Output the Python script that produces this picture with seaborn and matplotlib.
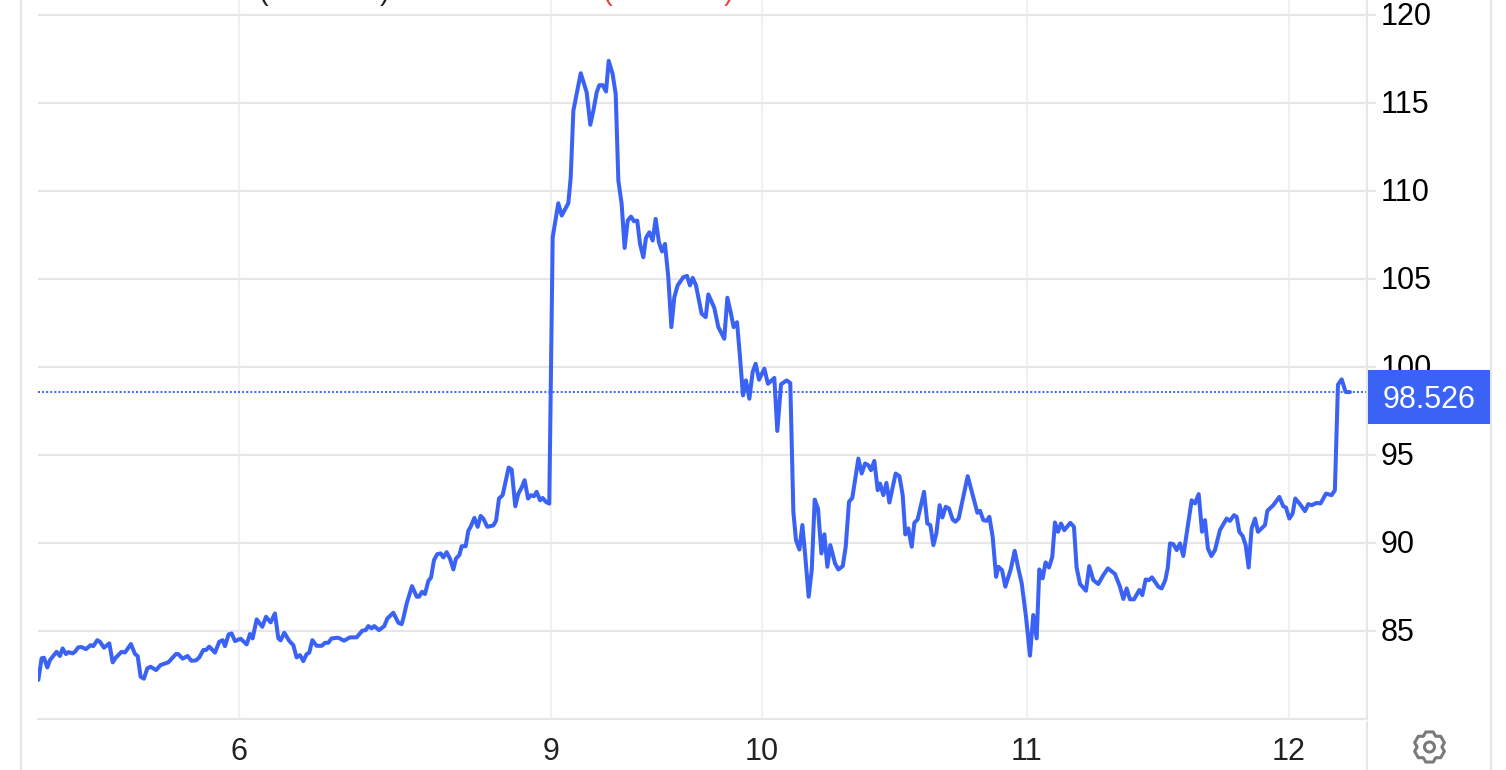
import matplotlib
matplotlib.use("Agg")
import matplotlib.pyplot as plt
from matplotlib.lines import Line2D
from matplotlib.patches import Circle, Polygon, Rectangle
from matplotlib.transforms import IdentityTransform, ScaledTranslation
import numpy as np
import seaborn as sns

# time axis is in trading hours from the left edge of the chart
hours = [
    0.03, 0.33, 0.54, 0.85, 1.09, 1.69, 1.99, 2.24, 2.54, 2.75, 3.15, 3.36, 3.66, 3.97, 4.36, 4.79,
    5.03, 5.39, 5.63, 6.0, 6.48, 6.79, 7.09, 7.6, 7.91, 8.45, 8.82, 9.06, 9.33, 9.63, 9.94, 10.24,
    10.73, 11.15, 11.85, 12.54, 12.75, 13.15, 13.6, 13.94, 14.36, 14.66, 15.03, 15.27, 15.57, 16.09,
    16.48, 16.79, 17.0, 17.33, 17.6, 17.91, 18.42, 18.97, 19.27, 19.51, 19.88, 20.39, 20.73, 21.15,
    21.54, 21.85, 22.06, 22.39, 22.85, 23.21, 23.51, 23.82, 24.12, 24.42, 24.66, 24.94, 25.33, 25.79,
    26.09, 26.39, 26.69, 27.3, 27.82, 28.36, 28.97, 29.48, 29.79, 30.03, 30.33, 30.57, 31.0, 31.48,
    31.76, 32.3, 32.76, 33.06,
    33.21, 33.52, 34.0, 34.43, 34.64, 34.91, 35.18, 35.49, 35.73, 36.0, 36.3, 36.61, 36.85, 37.15,
    37.45, 37.76, 38.0, 38.3, 38.52, 38.88, 39.12, 39.36, 39.67, 39.97, 40.24, 40.48, 40.85, 41.39,
    41.64, 41.91, 42.24, 42.79, 43.06, 43.39, 43.67, 43.97, 44.24, 44.55, 44.82, 45.09, 45.33, 45.64,
    45.88, 46.18, 46.48,
    46.79, 47.3, 47.61, 48.21, 48.43, 48.67, 49.34, 49.88, 50.21, 50.49, 50.79, 51.03, 51.34, 51.64,
    51.88, 52.24, 52.52, 52.76, 53.06,
    53.33, 53.61, 53.91, 54.18, 54.48, 54.73, 55.03, 55.27, 55.58, 55.88, 56.15, 56.45, 56.73, 57.0,
    57.3, 57.58, 57.85, 58.15, 58.67, 59.0, 59.27, 59.52, 59.82, 60.33, 60.7, 60.94, 61.48, 61.85,
    62.39, 62.67, 62.97, 63.24, 63.55, 63.82, 64.09, 64.36, 64.67, 64.97, 65.24, 65.55, 66.03, 66.36,
    66.94, 67.21, 67.55, 68.06, 68.39,
    68.67, 68.91, 69.22, 69.49, 69.73, 70.06, 70.34, 70.61, 70.91, 71.22, 71.49, 71.76, 72.03, 72.46,
    72.76, 73.16, 73.43, 73.73, 74.03, 74.58, 74.88, 75.19, 75.49, 75.73, 76.03, 76.34, 76.55, 76.85,
    77.13, 77.4, 77.97, 78.31, 78.61, 78.85, 79.12, 79.43, 79.67, 79.97, 80.55, 80.85, 81.12, 81.4,
    81.67, 81.97, 82.22, 82.52, 82.82, 83.15, 83.4, 83.7, 84.52, 85.4, 85.64, 85.94, 86.25, 86.49,
    86.79, 87.1, 87.31, 87.64, 87.94, 88.43, 88.79, 89.12, 89.43, 89.82,
    90.18, 90.48, 90.79, 91.03, 91.33, 91.6, 91.91, 92.21, 92.45, 92.73, 93.0, 93.3, 93.85, 94.18,
    94.42, 94.73, 95.27, 95.57, 95.94, 96.39, 96.85, 97.27, 97.91, 98.36, 98.67, 98.97, 99.27, 99.64,
    100.12, 100.39, 100.7, 101.0, 101.27, 101.85, 102.15, 102.48, 102.7, 102.91, 103.21, 103.52,
    103.82, 104.12, 104.88, 105.18, 105.52, 105.82, 106.09, 106.36, 106.67, 107.0, 107.45, 108.06,
    108.36, 108.73, 108.97, 109.21, 109.52, 109.79, 110.06, 110.33, 110.64, 110.91, 111.55, 111.76,
    112.3, 112.85, 113.21, 113.45, 113.76, 114.06, 114.3, 114.73, 115.18, 115.48, 115.79, 116.24,
    116.6, 117.09, 117.6, 117.9, 118.18, 118.52, 118.88, 119.27,
]
prices = [
    82.22, 83.45, 83.48, 82.93, 83.35, 83.82, 83.58, 84.01, 83.69, 83.8, 83.73, 83.82, 84.07, 84.09, 83.97, 84.2,
    84.14, 84.48, 84.39, 84.05, 84.3, 83.22, 83.5, 83.82, 83.78, 84.26, 83.69, 83.58, 82.4, 82.29, 82.88, 82.97,
    82.78, 83.07, 83.22, 83.69, 83.69, 83.43, 83.58, 83.31, 83.33, 83.5, 83.92, 83.92, 84.11, 83.77,
    84.39, 84.48, 84.14, 84.81, 84.86, 84.43, 84.56, 84.24, 84.83, 84.58, 85.66, 85.24, 85.81, 85.49,
    86.0, 84.58, 84.47, 84.9, 84.43, 84.2, 83.5, 83.63, 83.29, 83.69, 83.77, 84.48, 84.16, 84.16,
    84.33, 84.33, 84.58, 84.62, 84.45, 84.64, 84.64, 85.02, 85.05, 85.28, 85.15, 85.28, 85.05, 85.28,
    85.71, 86.04, 85.47, 85.39,
    85.72, 86.57, 87.55, 86.95, 86.95, 87.23, 87.1, 87.85, 88.04, 89.03, 89.37, 89.41, 89.18, 89.48,
    89.12, 88.5, 89.12, 89.31, 89.82, 89.82, 90.69, 90.96, 91.43, 90.92, 91.54, 91.39, 90.92, 91.0,
    91.26, 92.53, 92.72, 94.29, 94.17, 92.09, 92.81, 93.15, 93.57, 92.53, 92.72, 92.66, 92.91, 92.43,
    92.56, 92.34, 92.24,
    107.38, 109.31, 108.61, 109.31, 110.78, 114.57, 116.7, 115.61, 113.77, 114.57, 115.61, 116.02, 116.02, 115.66,
    117.4, 116.65, 115.51, 110.6, 109.27,
    106.77, 108.32, 108.55, 108.29, 108.32, 107.0, 106.24, 107.34, 107.66, 107.19, 108.42, 107.09, 106.57, 107.0,
    105.11, 102.27, 103.97, 104.64, 105.11, 105.18, 104.64, 105.07, 104.64, 103.03, 102.84, 104.13, 103.37, 102.27,
    101.61, 103.94, 103.12, 102.27, 102.55, 100.57, 98.39, 99.24, 98.2, 99.72, 100.19, 99.28, 99.91, 99.05,
    99.38, 96.37, 99.02, 99.24, 99.09,
    91.77, 90.16, 89.63, 91.02, 89.41, 86.95, 88.46, 92.47, 91.96, 89.41, 90.5, 88.65, 89.88, 88.84,
    88.5, 88.69, 89.79, 92.34, 92.57, 94.8, 93.95, 94.52, 94.42, 94.14, 94.67, 93.0, 93.38, 92.72,
    93.42, 92.3, 93.95, 93.8, 92.72, 90.49, 90.83, 89.79, 91.15, 91.34, 92.91, 91.11, 91.02, 89.88,
    90.54, 92.15, 91.45, 92.06, 91.96, 91.34, 91.21, 91.4, 93.8, 91.72, 91.83, 91.3, 91.26, 91.49,
    90.35, 88.08, 88.65, 88.46, 87.52, 88.5, 89.56, 88.56, 87.71, 85.81,
    83.6, 85.91, 84.58, 88.5, 87.99, 88.9, 88.61, 89.22, 91.17, 90.64, 91.11, 90.73, 91.15, 90.92,
    88.61, 87.67, 87.29, 88.69, 87.89, 87.67, 88.18, 88.56, 88.24, 87.52, 86.82, 87.42, 86.8, 86.8,
    87.33, 87.04, 87.93, 87.89, 88.05, 87.52, 87.42, 87.89, 88.56, 89.98, 89.94, 89.6,
    89.98, 89.26, 92.43, 92.25, 92.78, 90.64, 91.3, 89.69, 89.26, 89.6, 90.73, 91.39,
    91.26, 91.58, 91.49, 90.64, 90.39, 89.88, 88.61, 90.83, 91.39, 90.64, 91.02, 91.83,
    92.15, 92.62, 92.09, 92.02, 91.39, 91.68, 92.53, 92.21, 91.81, 92.21, 92.15, 92.28,
    92.25, 92.81, 92.72, 93.0, 99.0, 99.3, 98.58, 98.58,
]
last_price = 98.526

tick_hours = [18.27, 46.64, 65.82, 89.91, 113.73]
tick_labels = ["6", "9", "10", "11", "12"]
price_ticks = [85, 90, 95, 100, 105, 110, 115, 120]

W, H = 1506, 770
BLUE = "#3a63f5"
GRID_H = "#e6e6e8"
GRID_V = "#eff2f5"


def px(x, y):
    # pixel position from the top left -> figure fraction
    return x / W, 1 - y / H


sns.set_theme(style="whitegrid")
plt.rcParams["font.family"] = ["Liberation Sans", "DejaVu Sans"]

fig = plt.figure(figsize=(W / 100, H / 100), dpi=100, facecolor="white")
ax = fig.add_axes([38 / W, 1 - 719 / H, (1367 - 38) / W, 719 / H])
ax.set_facecolor("white")

sns.lineplot(x=hours, y=prices, ax=ax, color=BLUE, linewidth=2.9, estimator=None, sort=False)
ax.axhline(prices[-1], color=BLUE, linewidth=1.4, linestyle=(0, (1, 1.1)), zorder=1.5)

ax.set_xlim(0, 120.82)
ax.set_ylim(80, 120.86)
ax.set_xticks(tick_hours, tick_labels)
ax.set_yticks(price_ticks)
ax.yaxis.tick_right()
ax.set_xlabel("")
ax.set_ylabel("")

ax.grid(axis="y", color=GRID_H, linewidth=1.5)
ax.grid(axis="x", color=GRID_V, linewidth=1.5)
ax.tick_params(axis="y", right=True, left=False, length=6.5, width=1.5, color=GRID_H, pad=3,
               labelsize=22, labelcolor="#000000")
ax.tick_params(axis="x", length=0, pad=13, labelsize=22, labelcolor="#222222")

# tick labels sit a little above their gridlines
lift = ScaledTranslation(0, 2 / 100, fig.dpi_scale_trans)
for label in ax.get_yticklabels():
    label.set_transform(label.get_transform() + lift)

for name in ["top", "left"]:
    ax.spines[name].set_visible(False)
ax.spines["bottom"].set_color(GRID_H)
ax.spines["bottom"].set_linewidth(1.5)
ax.spines["right"].set_color(GRID_H)
ax.spines["right"].set_linewidth(1.5)

# outer frame and the stub of the separator under the axis
for x, y0, y1, col in [(21, 0, H, GRID_H), (1490.5, 0, H, "#e4e4ea"), (1367, 722, H, GRID_H)]:
    x0f, y0f = px(x, y0)
    x1f, y1f = px(x, y1)
    fig.add_artist(Line2D([x0f, x1f], [y0f, y1f], color=col, linewidth=1.5))

# price flag on the right
bx, by = px(1368, 424)
fig.add_artist(Rectangle((bx, by), 122 / W, 54 / H, transform=fig.transFigure, facecolor=BLUE, edgecolor="none", zorder=3))
tx, ty = px(1429, 400)
fig.text(tx, ty, f"{last_price:.3f}", color="white", fontsize=22, ha="center", va="center", zorder=4)

# header text cut off by the top of the crop
for x, s, col in [(263, "(", "#222222"), (385, ")", "#222222"), (607, "(", "#e0483e"), (729, ")", "#e0483e")]:
    fig.text(x / W, 1.0, s, color=col, fontsize=21, ha="center", va="baseline")

# settings gear
cx, cy = 1429.5, H - 747
angles = np.deg2rad(np.arange(0, 360, 60) + 90)
outline = []
for a in angles:
    for da, r in [(-0.50, 12.5), (-0.24, 15.5), (0.24, 15.5), (0.50, 12.5)]:
        outline.append((cx + r * np.cos(a + da), cy + r * np.sin(a + da)))
fig.add_artist(Polygon(outline, closed=True, fill=False, edgecolor="#7a7a7a", linewidth=2.2,
                       joinstyle="round", transform=IdentityTransform()))
fig.add_artist(Circle((cx, cy), 5, fill=False, edgecolor="#7a7a7a", linewidth=2.2, transform=IdentityTransform()))

fig.savefig("out.png", dpi=100)
